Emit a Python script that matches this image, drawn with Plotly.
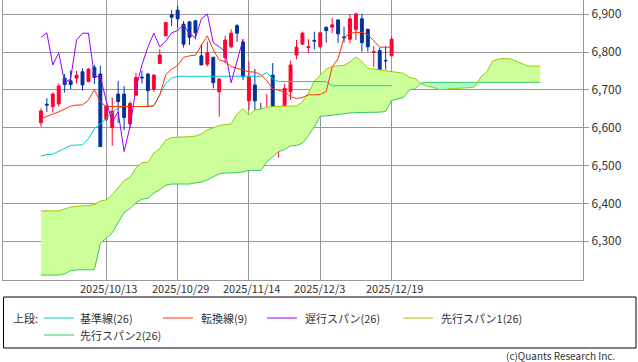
import numpy as np
import plotly.graph_objects as go

# ---------------- data ----------------
date_labels = ["2025/10/13", "2025/10/29", "2025/11/14", "2025/12/3", "2025/12/19"]
label_index = [11, 23, 35, 47, 59]

opens = [6613, 6662, 6656, 6663, 6731, 6724, 6731, 6748, 6722, 6760,
         6742, 6622, 6600, 6689, 6689, 6610, 6686, 6734, 6742, 6702,
         6770, 6843, 6899, 6911, 6874, 6880, 6883, 6790, 6768, 6786,
         6695, 6785, 6814, 6870, 6827, 6671, 6713, 6642, 6623, 6739,
         6554, 6634, 6695, 6792, 6821, 6812, 6831, 6814, 6866, 6866,
         6885, 6840, 6834, 6860, 6888, 6860, 6799, 6804, 6778, 6790]
highs = [6651, 6678, 6693, 6717, 6742, 6751, 6750, 6757, 6758, 6766,
         6764, 6660, 6680, 6724, 6710, 6670, 6745, 6751, 6745, 6742,
         6808, 6878, 6911, 6922, 6882, 6882, 6885, 6821, 6827, 6788,
         6731, 6843, 6860, 6874, 6834, 6775, 6755, 6666, 6689, 6771,
         6656, 6716, 6777, 6832, 6854, 6834, 6854, 6854, 6866, 6890,
         6887, 6867, 6901, 6904, 6901, 6863, 6816, 6812, 6816, 6841]
lows = [6603, 6642, 6640, 6656, 6693, 6702, 6717, 6698, 6720, 6716,
        6550, 6618, 6552, 6612, 6594, 6600, 6686, 6717, 6655, 6695,
        6770, 6843, 6869, 6863, 6812, 6819, 6834, 6766, 6762, 6704,
        6629, 6770, 6810, 6827, 6726, 6647, 6638, 6575, 6603, 6530,
        6521, 6629, 6673, 6781, 6819, 6797, 6807, 6810, 6825, 6850,
        6824, 6825, 6823, 6832, 6801, 6801, 6761, 6719, 6754, 6790]
closes = [6644, 6660, 6689, 6710, 6714, 6714, 6739, 6713, 6755, 6733,
          6550, 6657, 6644, 6669, 6627, 6664, 6733, 6732, 6698, 6739,
          6792, 6878, 6892, 6888, 6821, 6839, 6851, 6766, 6798, 6719,
          6729, 6832, 6850, 6850, 6735, 6735, 6671, 6616, 6642, 6537,
          6603, 6704, 6766, 6813, 6850, 6814, 6829, 6851, 6857, 6872,
          6848, 6838, 6888, 6901, 6825, 6814, 6801, 6719, 6777, 6834]

tenkan = [6624, 6629, 6636, 6642, 6650, 6657, 6660, 6660, 6673, 6701,
          6668, 6656, 6656, 6656, 6656, 6656, 6656, 6656, 6656, 6658,
          6686, 6740, 6755, 6765, 6786, 6790, 6792, 6818, 6843, 6806,
          6779, 6775, 6762, 6757, 6753, 6748, 6747, 6740, 6725, 6702,
          6699, 6695, 6682, 6677, 6680, 6687, 6687, 6688, 6696, 6760,
          6783, 6838, 6850, 6852, 6852, 6846, 6830, 6813, 6813, 6813]
kijun = [6525, 6529, 6530, 6537, 6544, 6553, 6554, 6555, 6571, 6598,
         6610, 6625, 6640, 6653, 6656, 6656, 6656, 6656, 6656, 6658,
         6689, 6717, 6731, 6736, 6736, 6736, 6736, 6736, 6736, 6736,
         6736, 6736, 6736, 6736, 6736, 6736, 6736, 6736, 6746, 6729,
         6722, 6722, 6722, 6722, 6722, 6722, 6722, 6722, 6722, 6711,
         6711, 6711, 6711, 6711, 6711, 6711, 6711, 6711, 6711, 6711]
span1 = [6380, 6380, 6380, 6380, 6385, 6390, 6392, 6393, 6394, 6397,
         6406, 6409, 6423, 6441, 6460, 6469, 6493, 6507, 6508, 6533,
         6545, 6567, 6574, 6575, 6575, 6576, 6578, 6583, 6594, 6600,
         6606, 6608, 6610, 6636, 6650, 6634, 6647, 6649, 6654, 6656,
         6657, 6657, 6657, 6657, 6668, 6691, 6723, 6738, 6755, 6762,
         6763, 6765, 6774, 6787, 6775, 6757, 6755, 6753, 6750, 6748,
         6746, 6744, 6733, 6730, 6716, 6709, 6707, 6701, 6701, 6704,
         6704, 6704, 6706, 6708, 6734, 6747, 6776, 6782, 6783, 6782,
         6775, 6768, 6763, 6763, 6763]
span2 = [6210, 6210, 6210, 6210, 6213, 6222, 6224, 6224, 6224, 6224,
         6294, 6307, 6322, 6349, 6376, 6386, 6402, 6411, 6413, 6427,
         6436, 6448, 6451, 6451, 6451, 6451, 6454, 6456, 6462, 6471,
         6478, 6480, 6480, 6481, 6483, 6487, 6487, 6487, 6509, 6524,
         6537, 6542, 6552, 6553, 6559, 6579, 6602, 6630, 6631, 6633,
         6635, 6638, 6639, 6640, 6640, 6640, 6641, 6641, 6643, 6672,
         6676, 6680, 6700, 6703, 6718, 6720, 6720, 6720, 6720, 6720,
         6720, 6720, 6720, 6720, 6720, 6720, 6720, 6720, 6720, 6720,
         6720, 6720, 6720, 6720, 6720]
chikou_shift = 25

legend_names = ["基準線(26)", "転換線(9)", "遅行スパン(26)", "先行スパン1(26)", "先行スパン2(26)"]

# ---------------- styles ----------------
C_KIJUN = "#00cccc"
C_TENKAN = "#ff3300"
C_CHIKOU = "#9900ff"
C_SPAN1 = "#99cc00"
C_SPAN2 = "#33cc66"
C_UP = "#ff0033"
C_DOWN = "#003399"
FONT = "Noto Sans CJK JP"
TXT = "#333333"

W, H = 638, 362
ML, MR, MT, MB = 3, 55, 0, 82
PW, PH = W - ML - MR, H - MT - MB

def px(xpix):
    return (xpix - ML) / PW

def py(ypix):
    return (MT + PH - ypix) / PH

n = len(closes)
xi = np.arange(n)
cloud_x = np.arange(len(span1))

# cloud with crossing points inserted
s1 = np.array(span1, float)
s2 = np.array(span2, float)
xs, a, b = [], [], []
for i in range(len(cloud_x)):
    if i > 0:
        d0 = s1[i - 1] - s2[i - 1]
        d1 = s1[i] - s2[i]
        if d0 * d1 < 0:
            t = d0 / (d0 - d1)
            xc = cloud_x[i - 1] + t
            yc = s1[i - 1] + t * (s1[i] - s1[i - 1])
            xs.append(xc); a.append(yc); b.append(yc)
    xs.append(cloud_x[i]); a.append(s1[i]); b.append(s2[i])
a = np.array(a); b = np.array(b)

fig = go.Figure()
fig.add_trace(go.Scatter(x=xs, y=b, mode="lines", line=dict(width=0), hoverinfo="skip", showlegend=False))
fig.add_trace(go.Scatter(x=xs, y=np.maximum(a, b), mode="lines", line=dict(width=0), fill="tonexty",
                         fillcolor="#ccff99", hoverinfo="skip", showlegend=False))
fig.add_trace(go.Scatter(x=xs, y=b, mode="lines", line=dict(width=0), hoverinfo="skip", showlegend=False))
fig.add_trace(go.Scatter(x=xs, y=np.minimum(a, b), mode="lines", line=dict(width=0), fill="tonexty",
                         fillcolor="#a8ffcc", hoverinfo="skip", showlegend=False))
fig.add_trace(go.Scatter(x=cloud_x, y=span2, mode="lines", line=dict(color=C_SPAN2, width=1), showlegend=False))
fig.add_trace(go.Scatter(x=cloud_x, y=span1, mode="lines", line=dict(color=C_SPAN1, width=1), showlegend=False))

fig.add_trace(go.Scatter(x=xi, y=kijun, mode="lines", line=dict(color=C_KIJUN, width=1), showlegend=False))
fig.add_trace(go.Scatter(x=xi, y=tenkan, mode="lines", line=dict(color=C_TENKAN, width=1), showlegend=False))
fig.add_trace(go.Scatter(x=xi[chikou_shift:] - chikou_shift, y=closes[chikou_shift:], mode="lines",
                         line=dict(color=C_CHIKOU, width=1), showlegend=False))

fig.add_trace(go.Candlestick(
    x=xi, open=opens, high=highs, low=lows, close=closes,
    increasing=dict(line=dict(color=C_UP, width=1), fillcolor=C_UP),
    decreasing=dict(line=dict(color=C_DOWN, width=1), fillcolor=C_DOWN),
    whiskerwidth=0, showlegend=False))

x_left = (ML - 40.9) / 5.944
x_right = (ML + PW - 40.9) / 5.944

fig.update_layout(
    width=W, height=H,
    margin=dict(l=ML, r=MR, t=MT, b=MB),
    paper_bgcolor="white", plot_bgcolor="white",
    font=dict(family=FONT, size=11, color=TXT),
    showlegend=False,
    xaxis=dict(range=[x_left, x_right], tickvals=label_index, showticklabels=False,
               showgrid=True, gridcolor="#999999", gridwidth=1, zeroline=False,
               showline=True, linecolor="#999999", linewidth=1, mirror=True,
               ticks="", rangeslider=dict(visible=False), fixedrange=True),
    yaxis=dict(range=[6197.1, 6937.8], side="right", tickvals=list(range(6300, 7000, 100)),
               tickformat=",", showgrid=True, gridcolor="#999999", gridwidth=1, zeroline=False,
               showline=True, linecolor="#999999", linewidth=1, mirror=True,
               ticks="outside", ticklen=5, tickcolor="#999999",
               tickfont=dict(family=FONT, size=12, color=TXT), fixedrange=True),
)

annotations = []
for lab, idx in zip(date_labels, label_index):
    annotations.append(dict(x=idx, y=py(288), xref="x", yref="paper", text=lab, showarrow=False,
                            xanchor="left", yanchor="middle", xshift=-28,
                            font=dict(family=FONT, size=11, color=TXT)))

shapes = []
# legend box
shapes.append(dict(type="rect", xref="paper", yref="paper", x0=px(3.5), x1=px(636), y0=py(348), y1=py(297),
                   line=dict(color="black", width=1), fillcolor="rgba(0,0,0,0)"))
annotations.append(dict(x=px(11), y=py(318), xref="paper", yref="paper", text="上段:", showarrow=False,
                        xanchor="left", yanchor="middle", font=dict(family=FONT, size=11, color=TXT)))
legend_items = [
    (44, 74, 78, 318, C_KIJUN, legend_names[0]),
    (163, 193, 199, 318, C_TENKAN, legend_names[1]),
    (267, 297, 303, 318, C_CHIKOU, legend_names[2]),
    (403, 433, 439, 318, C_SPAN1, legend_names[3]),
    (44, 74, 78, 335, C_SPAN2, legend_names[4]),
]
for x0, x1, xt, yy, col, name in legend_items:
    shapes.append(dict(type="line", xref="paper", yref="paper", x0=px(x0), x1=px(x1), y0=py(yy), y1=py(yy),
                       line=dict(color=col, width=1)))
    annotations.append(dict(x=px(xt), y=py(yy), xref="paper", yref="paper", text=name, showarrow=False,
                            xanchor="left", yanchor="middle", font=dict(family=FONT, size=11, color=TXT)))

annotations.append(dict(x=px(617), y=py(355), xref="paper", yref="paper", text="(c)Quants Research Inc.",
                        showarrow=False, xanchor="right", yanchor="middle",
                        font=dict(family=FONT, size=10, color=TXT)))

fig.update_layout(shapes=shapes, annotations=annotations)
fig.write_html("out.html", config={"displayModeBar": False},
               post_script="document.body.style.margin='0px';")
